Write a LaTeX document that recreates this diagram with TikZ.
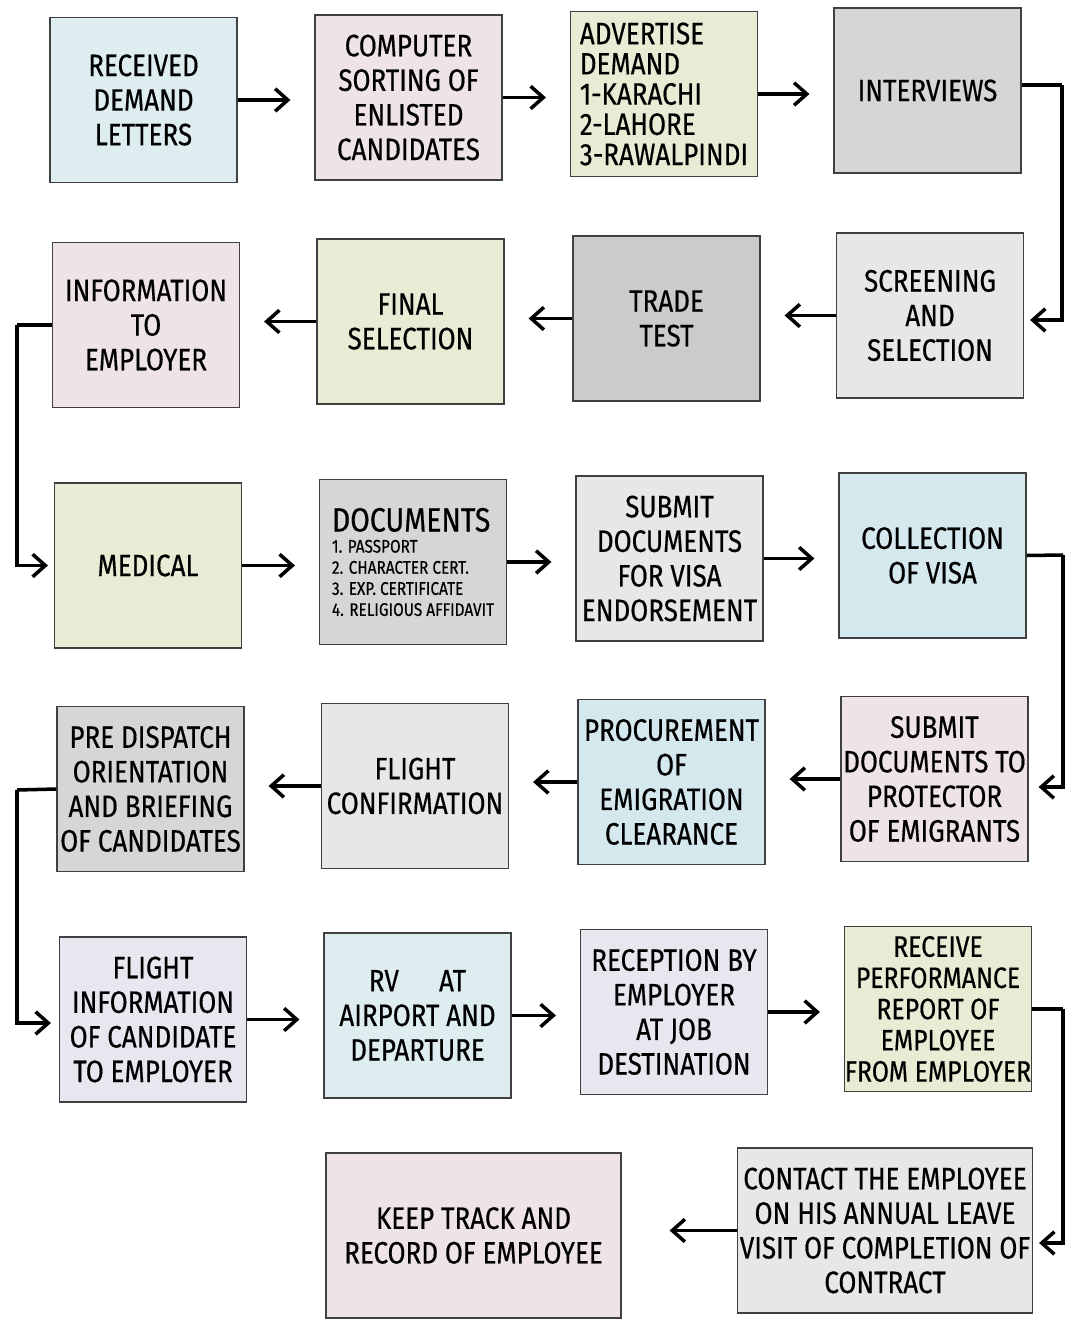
\documentclass[tikz,border=0pt]{standalone}
\usepackage{fontspec}
\setmainfont{Fira Sans}[FakeStretch=0.84, FakeBold=0.5]
\usetikzlibrary{arrows.meta}

\definecolor{boxblue}{HTML}{DDEDF0}
\definecolor{boxsky}{HTML}{D5E8EE}
\definecolor{boxpink}{HTML}{EFE3EA}
\definecolor{boxolive}{HTML}{E9ECD5}
\definecolor{boxgray}{HTML}{D6D6D6}
\definecolor{boxdark}{HTML}{CBCBCB}
\definecolor{boxlight}{HTML}{E7E7EA}
\definecolor{boxlilac}{HTML}{E8E6EE}

\begin{document}
\begin{tikzpicture}[x=0.025cm, y=-0.025cm,
  box/.style={draw=black!75, line width=0.8pt, minimum width=4.675cm, minimum height=4.125cm,
    inner sep=0pt, align=center, font=\fontsize{22}{24.6}\selectfont},
  wide/.style={minimum width=7.375cm},
  arr/.style={line width=2.5pt, -{Straight Barb[length=9pt,width=16pt]}},
  link/.style={line width=2.5pt}]
\useasboundingbox (0,0) rectangle (1065,1319);

% row 1
\node[box, fill=boxblue] (recv) at (143.5,100) {RECEIVED\\DEMAND\\LETTERS};
\node[box, fill=boxpink] (sort) at (408.5,97.5) {COMPUTER\\SORTING OF\\ENLISTED\\CANDIDATES};
\node[box, fill=boxolive, align=left, font=\fontsize{22}{21.5}\selectfont] (advert) at (664,94) {ADVERTISE\\DEMAND\\1-KARACHI\\2-LAHORE\\3-RAWALPINDI};
\node[box, fill=boxgray] (interv) at (927.5,90.5) {INTERVIEWS};
\draw[arr] (recv) -- ([xshift=-0.6cm]sort.west |- recv);
\draw[arr] (sort) -- ([xshift=-0.6cm]advert.west |- sort);
\draw[arr] (advert) -- ([xshift=-0.6cm]interv.west |- advert);

% row 2
\node[box, fill=boxlight] (screen) at (930,315.5) {SCREENING\\AND\\SELECTION};
\node[box, fill=boxdark] (trade) at (666.5,318.5) {TRADE\\TEST};
\node[box, fill=boxolive] (final) at (410.5,321.5) {FINAL\\SELECTION};
\node[box, fill=boxpink] (inform) at (146,325) {INFORMATION\\TO\\EMPLOYER};
\draw[link] (interv.east |- 0,85) -- (1062,85) coordinate (r1);
\draw[arr] (r1) |- ([xshift=0.15cm]screen.east |- 0,320);
\draw[arr] (screen) -- ([xshift=0.6cm]trade.east |- screen);
\draw[arr] (trade) -- ([xshift=0.6cm]final.east |- trade);
\draw[arr] (final) -- ([xshift=0.6cm]inform.east |- final);

% row 3
\node[box, fill=boxolive] (medical) at (148,565.5) {MEDICAL};
\node[box, fill=boxgray, align=left, font=\fontsize{13}{15}\selectfont] (docs) at (413,562)
  {{\fontsize{24}{27}\selectfont DOCUMENTS}\\1. PASSPORT\\2. CHARACTER CERT.\\3. EXP. CERTIFICATE\\4. RELIGIOUS AFFIDAVIT};
\node[box, fill=boxlight] (visa) at (669.5,558.5) {SUBMIT\\DOCUMENTS\\FOR VISA\\ENDORSEMENT};
\node[box, fill=boxsky] (collect) at (932.5,555.5) {COLLECTION\\OF VISA};
\draw[link] (inform.west) -- (17,325) coordinate (l1);
\draw[arr] (l1) |- ([xshift=-0.15cm]medical.west);
\draw[arr] (medical) -- ([xshift=-0.6cm]docs.west |- medical);
\draw[arr] (docs) -- ([xshift=-0.6cm]visa.west |- docs);
\draw[arr] (visa) -- ([xshift=-0.6cm]collect.west |- visa);

% row 4
\node[box, fill=boxpink] (protect) at (934.5,779) {SUBMIT\\DOCUMENTS TO\\PROTECTOR\\OF EMIGRANTS};
\node[box, fill=boxsky] (procure) at (671.5,782) {PROCUREMENT\\OF\\EMIGRATION\\CLEARANCE};
\node[box, fill=boxlight] (flconf) at (415,786) {FLIGHT\\CONFIRMATION};
\node[box, fill=boxgray] (brief) at (150.5,789) {PRE DISPATCH\\ORIENTATION\\AND BRIEFING\\OF CANDIDATES};
\draw[link] (collect.east) -- (1063,555) coordinate (r2);
\draw[arr] (r2) |- ([xshift=0.25cm]protect.east |- 0,787);
\draw[arr] (protect) -- ([xshift=0.6cm]procure.east |- protect);
\draw[arr] (procure) -- ([xshift=0.6cm]flconf.east |- procure);
\draw[arr] (flconf) -- ([xshift=0.6cm]brief.east |- flconf);

% row 5
\node[box, fill=boxlilac] (flinfo) at (153,1019.5) {FLIGHT\\INFORMATION\\OF CANDIDATE\\TO EMPLOYER};
\node[box, fill=boxblue] (airport) at (417.5,1015.5) {RV\hspace{1.3em}AT\\AIRPORT AND\\DEPARTURE};
\node[box, fill=boxlilac] (recept) at (674,1012) {RECEPTION BY\\EMPLOYER\\AT JOB\\DESTINATION};
\node[box, fill=boxolive, font=\fontsize{21}{22.2}\selectfont] (perf) at (938,1009) {RECEIVE\\PERFORMANCE\\REPORT OF\\EMPLOYEE\\FROM EMPLOYER};
\draw[link] (brief.west) -- (17,790) coordinate (l2);
\draw[arr] (l2) |- ([xshift=-0.2cm]flinfo.west |- 0,1023);
\draw[arr] (flinfo) -- ([xshift=-0.6cm]airport.west |- flinfo);
\draw[arr] (airport) -- ([xshift=-0.6cm]recept.west |- airport);
\draw[arr] (recept) -- ([xshift=-0.6cm]perf.west |- recept);

% row 6
\node[box, wide, fill=boxlight] (contact) at (885,1230.5) {CONTACT THE EMPLOYEE\\ON HIS ANNUAL LEAVE\\VISIT OF COMPLETION OF\\CONTRACT};
\node[box, wide, fill=boxpink] (track) at (473.5,1235.5) {KEEP TRACK AND\\RECORD OF EMPLOYEE};
\draw[link] (perf.east) -- (1063,1009) coordinate (r3);
\draw[arr] (r3) |- ([xshift=0.15cm]contact.east |- 0,1243);
\draw[arr] (contact) -- ([xshift=1.2cm]track.east |- contact);

\end{tikzpicture}
\end{document}
